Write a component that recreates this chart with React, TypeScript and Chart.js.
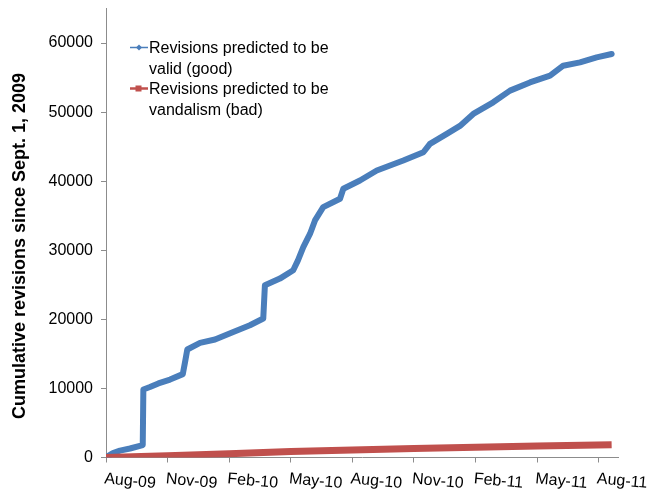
import React, { useEffect, useRef } from "react";
import { Chart, registerables } from "chart.js";

Chart.register(...registerables);

// x values are months elapsed since the Aug-09 tick
const goodMonths = [0, 0.1, 0.34, 0.68, 1.17, 1.79, 1.82, 2.14, 2.55, 3.12, 3.74, 3.85, 3.96, 4.58, 5.31, 6.2, 7.01, 7.66, 7.74, 8.47, 9.12, 9.35, 9.61, 9.94, 10.18, 10.58, 11.4, 11.56, 12.37, 13.19, 14.48, 15.46, 15.78, 16.6, 17.24, 17.89, 18.86, 19.68, 20.65, 21.63, 22.27, 23.09, 23.9, 24.63];
const goodValues = [0, 200, 650, 1000, 1300, 1800, 9850, 10200, 10720, 11280, 12070, 13800, 15640, 16590, 17080, 18180, 19150, 20120, 24930, 25900, 27100, 28540, 30460, 32400, 34320, 36240, 37460, 38900, 40100, 41550, 43000, 44190, 45400, 46850, 48000, 49740, 51420, 53110, 54300, 55270, 56720, 57200, 57920, 58410];

const badMonths = [0, 3, 6, 9, 12, 15, 18, 21, 24.63];
const badValues = [0, 270, 560, 870, 1100, 1300, 1480, 1650, 1850];

const xTickValues = [0, 3, 6, 9, 12, 15, 18, 21, 24];
const xTickLabels = ["Aug-09", "Nov-09", "Feb-10", "May-10", "Aug-10", "Nov-10", "Feb-11", "May-11", "Aug-11"];
const yTickValues = [0, 10000, 20000, 30000, 40000, 50000, 60000];

const goodLabel = ["Revisions predicted to be", "valid (good)"];
const badLabel = ["Revisions predicted to be", "vandalism (bad)"];
const yTitle = "Cumulative revisions since Sept. 1, 2009";

const BLUE = "#4A7EBB";
const RED = "#C0504D";
const AXIS = "#8C8C8C";
const FONT = "'Liberation Sans', Arial, sans-serif";

const overlayPlugin = {
  id: "overlay",
  afterDraw(chart: any) {
    const ctx = chart.ctx;
    const xs = chart.scales.x;
    ctx.save();
    // x tick labels, slightly rotated
    ctx.fillStyle = "#000";
    ctx.font = `16px ${FONT}`;
    ctx.textAlign = "left";
    ctx.textBaseline = "top";
    xTickValues.forEach((v, i) => {
      const px = xs.getPixelForValue(v);
      ctx.save();
      ctx.translate(px - 1, 471);
      ctx.rotate(0.09);
      ctx.fillText(xTickLabels[i], 0, 0);
      ctx.restore();
    });
    // y title
    ctx.save();
    ctx.font = `bold 18px ${FONT}`;
    ctx.textAlign = "center";
    ctx.textBaseline = "middle";
    ctx.translate(20, 246);
    ctx.rotate(-Math.PI / 2);
    ctx.fillText(yTitle, 0, 0);
    ctx.restore();
    // legend
    ctx.font = `16px ${FONT}`;
    ctx.textAlign = "left";
    ctx.textBaseline = "middle";
    // good entry
    ctx.strokeStyle = BLUE;
    ctx.lineWidth = 1.5;
    ctx.beginPath();
    ctx.moveTo(130, 47.5);
    ctx.lineTo(148, 47.5);
    ctx.stroke();
    ctx.fillStyle = BLUE;
    ctx.beginPath();
    ctx.moveTo(139, 44.5);
    ctx.lineTo(142, 47.5);
    ctx.lineTo(139, 50.5);
    ctx.lineTo(136, 47.5);
    ctx.closePath();
    ctx.fill();
    ctx.fillStyle = "#000";
    ctx.fillText(goodLabel[0], 149, 49);
    ctx.fillText(goodLabel[1], 149, 70);
    // bad entry
    ctx.strokeStyle = RED;
    ctx.lineWidth = 2.5;
    ctx.beginPath();
    ctx.moveTo(130, 88.5);
    ctx.lineTo(148, 88.5);
    ctx.stroke();
    ctx.fillStyle = RED;
    ctx.fillRect(135.5, 85.5, 6, 6);
    ctx.fillStyle = "#000";
    ctx.fillText(badLabel[0], 149, 90);
    ctx.fillText(badLabel[1], 149, 111);
    ctx.restore();
  },
};

export default function App() {
  const ref = useRef<HTMLCanvasElement | null>(null);

  useEffect(() => {
    if (!ref.current) return;
    const chart = new Chart(ref.current, {
      type: "line",
      data: {
        datasets: [
          {
            label: "bad",
            data: badMonths.map((m, i) => ({ x: m, y: badValues[i] })),
            borderColor: RED,
            backgroundColor: RED,
            borderWidth: 7,
            pointRadius: 0,
            tension: 0,
          },
          {
            label: "good",
            data: goodMonths.map((m, i) => ({ x: m, y: goodValues[i] })),
            borderColor: BLUE,
            backgroundColor: BLUE,
            borderWidth: 6,
            pointRadius: 0,
            tension: 0,
            borderJoinStyle: "round",
            borderCapStyle: "round",
          },
        ],
      },
      options: {
        animation: false,
        responsive: true,
        maintainAspectRatio: false,
        layout: { padding: { left: 0, top: 8.5, right: 41, bottom: 0 } },
        plugins: {
          legend: { display: false },
          tooltip: { enabled: false },
        },
        scales: {
          x: {
            type: "linear",
            min: 0,
            max: 24.94,
            afterBuildTicks: (s: any) => {
              s.ticks = xTickValues.map((v) => ({ value: v }));
            },
            afterFit: (s: any) => {
              s.height = 34.5;
              s.paddingLeft = 0;
              s.paddingRight = 0;
            },
            ticks: { display: false },
            grid: {
              display: true,
              drawOnChartArea: false,
              drawTicks: true,
              tickLength: 5,
              color: AXIS,
            },
            border: { display: true, color: AXIS, width: 1 },
          },
          y: {
            type: "linear",
            min: 0,
            max: 65000,
            afterBuildTicks: (s: any) => {
              s.ticks = yTickValues.map((v) => ({ value: v }));
            },
            afterFit: (s: any) => {
              s.width = 106;
              s.paddingTop = 0;
              s.paddingBottom = 0;
            },
            ticks: {
              color: "#000",
              font: { family: FONT, size: 16 },
              padding: 8,
              callback: (v: any) => String(v),
            },
            grid: {
              display: true,
              drawOnChartArea: false,
              drawTicks: true,
              tickLength: 5,
              color: AXIS,
            },
            border: { display: true, color: AXIS, width: 1 },
          },
        },
      },
      plugins: [overlayPlugin],
    });
    return () => chart.destroy();
  }, []);

  return (
    <div style={{ position: "absolute", left: 0, top: 0, width: 659, height: 492 }}>
      <canvas ref={ref} />
    </div>
  );
}
